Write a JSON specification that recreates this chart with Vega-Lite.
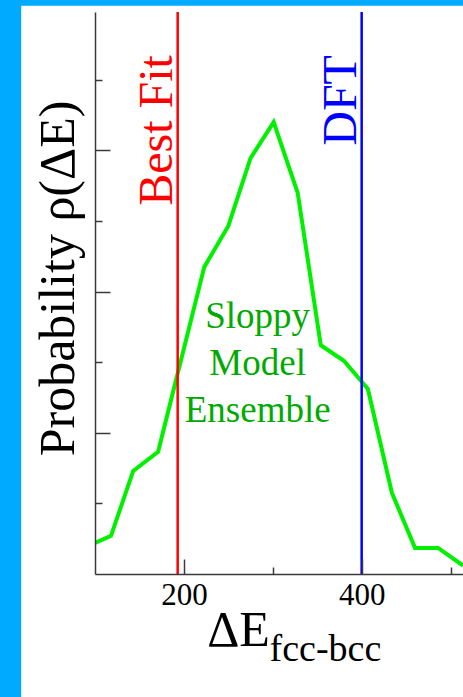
{
  "$schema": "https://vega.github.io/schema/vega-lite/v6.json",
  "width": 368,
  "height": 562,
  "autosize": {"type": "none"},
  "padding": {"left": 95, "top": 12, "right": 0, "bottom": 123},
  "background": "#00aaff",
  "config": {
    "view": {"stroke": null},
    "font": "Liberation Serif",
    "axis": {
      "grid": false,
      "domainColor": "#3a3a3a",
      "tickColor": "#3a3a3a",
      "domainWidth": 1.5,
      "tickWidth": 1.5,
      "labelFont": "Liberation Serif",
      "titleFont": "Liberation Serif",
      "labelColor": "#000000",
      "titleColor": "#000000",
      "titleFontWeight": "normal"
    }
  },
  "datasets": {
    "curve": [
      {"E": 100, "p": 0.44},
      {"E": 118, "p": 0.54},
      {"E": 143, "p": 1.46},
      {"E": 171, "p": 1.73},
      {"E": 223, "p": 4.35},
      {"E": 250, "p": 4.93},
      {"E": 275, "p": 5.89},
      {"E": 301, "p": 6.40},
      {"E": 328, "p": 5.40},
      {"E": 354, "p": 3.24},
      {"E": 380, "p": 3.02},
      {"E": 407, "p": 2.62},
      {"E": 434, "p": 1.15},
      {"E": 460, "p": 0.37},
      {"E": 486, "p": 0.37},
      {"E": 514, "p": 0.12}
    ],
    "refs": [
      {"label": "Best Fit", "E": 193},
      {"label": "DFT", "E": 400}
    ],
    "note": [
      {"text": ["Sloppy", "Model", "Ensemble"]}
    ]
  },
  "resolve": {"axis": {"x": "independent", "y": "independent"}},
  "layer": [
    {
      "data": {"name": "note"},
      "mark": {"type": "rect", "fill": "#ffffff"},
      "encoding": {
        "x": {"datum": 17, "type": "quantitative", "scale": {"domain": [100, 514], "nice": false, "zero": false}, "axis": null},
        "x2": {"datum": 900},
        "y": {"datum": -3, "type": "quantitative", "scale": {"domain": [0, 7.96], "nice": false, "zero": false}, "axis": null},
        "y2": {"datum": 8.05}
      }
    },
    {
      "data": {"name": "curve"},
      "mark": {"type": "line", "color": "#00f000", "strokeWidth": 4, "clip": true},
      "encoding": {
        "x": {
          "field": "E", "type": "quantitative",
          "scale": {"domain": [100, 514], "nice": false, "zero": false},
          "axis": {
            "zindex": 1,
            "orient": "bottom", "values": [200, 400], "tickSize": -15,
            "labelFontSize": 31, "labelBaseline": "alphabetic", "labelPadding": 45,
            "title": "ΔE", "titleFontSize": 50, "titleX": 143, "titleY": 71,
            "titleAlign": "center", "titleBaseline": "alphabetic"
          }
        },
        "y": {
          "field": "p", "type": "quantitative",
          "scale": {"domain": [0, 7.96], "nice": false, "zero": false},
          "axis": {
            "zindex": 1,
            "orient": "left", "values": [2, 4, 6], "tickSize": -15, "labels": false,
            "title": "Probability ρ(ΔE)", "titleFontSize": 50, "titleX": -22, "titleY": 266,
            "titleAngle": 270, "titleAlign": "center", "titleBaseline": "alphabetic"
          }
        }
      }
    },
    {
      "data": {"name": "refs"},
      "mark": {"type": "rule", "strokeWidth": 2.5},
      "encoding": {
        "x": {
          "field": "E", "type": "quantitative",
          "scale": {"domain": [100, 514], "nice": false, "zero": false},
          "axis": {
            "zindex": 1,
            "orient": "bottom", "values": [300, 500], "tickSize": -7, "labels": false, "domain": false,
            "title": "fcc-bcc", "titleFontSize": 38, "titleX": 174, "titleY": 86,
            "titleAlign": "left", "titleBaseline": "alphabetic"
          }
        },
        "color": {
          "field": "label", "type": "nominal",
          "scale": {"domain": ["Best Fit", "DFT"], "range": ["#ff0000", "#0000ff"]},
          "legend": null
        }
      }
    },
    {
      "data": {"name": "refs"},
      "mark": {"type": "text", "angle": 270, "align": "right", "baseline": "alphabetic", "fontSize": 48, "dy": -5.5},
      "encoding": {
        "x": {"field": "E", "type": "quantitative", "scale": {"domain": [100, 514], "nice": false, "zero": false}, "axis": null},
        "y": {
          "datum": 7.35, "type": "quantitative",
          "scale": {"domain": [0, 7.96], "nice": false, "zero": false},
          "axis": {"zindex": 1, "orient": "left", "values": [1, 3, 5, 7], "tickSize": -7, "labels": false, "domain": false, "title": null}
        },
        "text": {"field": "label"},
        "color": {
          "field": "label", "type": "nominal",
          "scale": {"domain": ["Best Fit", "DFT"], "range": ["#ff0000", "#0000ff"]},
          "legend": null
        }
      }
    },
    {
      "data": {"name": "note"},
      "mark": {"type": "text", "fontSize": 37, "color": "#00aa00", "lineHeight": 47, "baseline": "middle", "align": "center"},
      "encoding": {
        "x": {"datum": 283, "type": "quantitative", "scale": {"domain": [100, 514], "nice": false, "zero": false}, "axis": null},
        "y": {"datum": 3.64, "type": "quantitative", "scale": {"domain": [0, 7.96], "nice": false, "zero": false}, "axis": null},
        "text": {"field": "text"}
      }
    }
  ]
}
